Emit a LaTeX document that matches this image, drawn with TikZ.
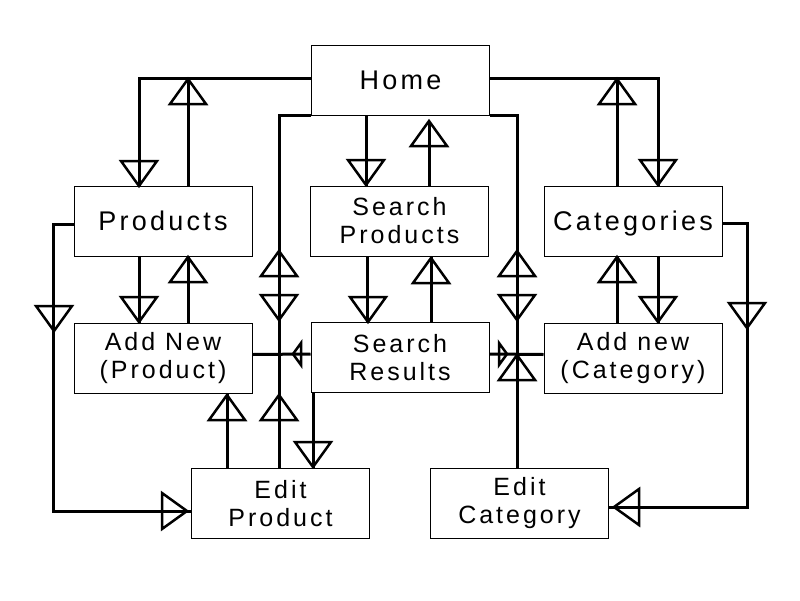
\documentclass[tikz,border=0pt]{standalone}
\usepackage{fontspec}
\newfontfamily\lab[LetterSpace=12]{Liberation Sans}
\begin{document}
\begin{tikzpicture}[x=1pt,y=-1pt,
  box/.style={draw, line width=1pt, minimum width=178pt, minimum height=70pt, inner sep=0pt, align=center},
  big/.style={font=\lab\fontsize{27}{28}\selectfont, text height=19.5pt, text depth=0pt},
  two/.style={font=\lab\fontsize{25}{28}\selectfont},
  conn/.style={line width=3pt},
  tri/.style={line width=2.5pt, line join=miter},
  tup/.pic={\draw[tri] (0,0) -- (-18,25) -- (18,25) -- cycle;},
  tdown/.pic={\draw[tri] (0,0) -- (-18,-25) -- (18,-25) -- cycle;},
  tleft/.pic={\draw[tri] (0,0) -- (25,-18) -- (25,18) -- cycle;},
  tright/.pic={\draw[tri] (0,0) -- (-25,-18) -- (-25,18) -- cycle;},
  sleft/.pic={\draw[tri] (0,0) -- (8,-11) -- (8,11) -- cycle;},
  sright/.pic={\draw[tri] (0,0) -- (-8,-11) -- (-8,11) -- cycle;}
]
\fill[white] (0,0) rectangle (800,600);
\useasboundingbox (0,0) rectangle (800,600);

\node[box,big] (home) at (400.5,80) {Home};
\node[box,big] (products) at (163,221) {Products};
\node[box,two] (sprod) at (399.5,221) {Search\\Products};
\node[box,big] (cats) at (633,221) {Categories};
\node[box,two] (addp) at (163,358) {Add New\\(Product)};
\node[box,two] (sres) at (400,357.5) {Search\\Results};
\node[box,two] (addc) at (633,358) {Add new\\(Category)};
\node[box,two] (editp) at (280.5,503.5) {Edit\\Product};
\node[box,two] (editc) at (519.5,503.5) {Edit\\Category};

\coordinate (hl) at ([yshift=2pt]home.west);
\coordinate (hr) at ([yshift=2pt]home.east);

\draw[conn] (hl) -| ([xshift=-24pt]products.north);
\draw[conn] ([xshift=25pt]products.north) -- ([xshift=25pt]products.north |- hl);
\draw[conn] (home.south west) -| ([xshift=-1.5pt]editp.north);
\draw[conn] (home.south east) -| ([xshift=-2.5pt]editc.north);
\draw[conn] ([yshift=3.5pt]addp.east) -- ([yshift=3.5pt]sres.west);
\draw[conn] ([yshift=3.5pt]sres.east) -- ([yshift=3.5pt]addc.west);
\draw[conn] ([xshift=-34.5pt]home.south) -- ([xshift=-34.5pt]home.south |- sprod.north);
\draw[conn] ([xshift=29.5pt]sprod.north) -- ([xshift=29.5pt,yshift=-6pt]sprod.north |- home.south);
\draw[conn] ([xshift=-32pt]sprod.south) -- ([xshift=-32pt]sprod.south |- sres.north);
\draw[conn] ([xshift=31pt]sres.north) -- ([xshift=31pt]sres.north |- sprod.south);
\draw[conn] ([xshift=-24pt]products.south) -- ([xshift=-24pt]products.south |- addp.north);
\draw[conn] ([xshift=25pt]addp.north) -- ([xshift=25pt]addp.north |- products.south);
\draw[conn] (hr) -| ([xshift=25pt]cats.north);
\draw[conn] ([xshift=-16pt]cats.north) -- ([xshift=-16pt]cats.north |- hr);
\draw[conn] ([xshift=25pt]cats.south) -- ([xshift=25pt]cats.south |- addc.north);
\draw[conn] ([xshift=-16pt]addc.north) -- ([xshift=-16pt]addc.north |- cats.south);
\draw[conn] ([yshift=-3pt]products.west) -- ++(-20,0) |- ([yshift=-7.5pt]editp.west);
\draw[conn] ([yshift=-2pt]cats.east) -- ++(25,0) |- ([yshift=-3.5pt]editc.east);
\draw[conn] ([xshift=-87pt]sres.south) -- ([xshift=-87pt]sres.south |- editp.north);
\draw[conn] ([xshift=-53.5pt]editp.north) -- ([xshift=-53.5pt]editp.north |- addp.south);

\pic at (139,186) {tdown};
\pic at (188,79) {tup};
\pic at (279,251) {tup};
\pic at (279,320) {tdown};
\pic at (279,395) {tup};
\pic at (517,251) {tup};
\pic at (517,320) {tdown};
\pic at (517,355) {tup};
\pic at (293,354) {sleft};
\pic at (507,354) {sright};
\pic at (366,185) {tdown};
\pic at (429,121) {tup};
\pic at (368,322) {tdown};
\pic at (431,258) {tup};
\pic at (139,322) {tdown};
\pic at (188,257) {tup};
\pic at (658,185) {tdown};
\pic at (617,79) {tup};
\pic at (658,322) {tdown};
\pic at (617,257) {tup};
\pic at (54,331) {tdown};
\pic at (187,511) {tright};
\pic at (747,328) {tdown};
\pic at (614,507) {tleft};
\pic at (313,467) {tdown};
\pic at (227,395) {tup};
\end{tikzpicture}
\end{document}
